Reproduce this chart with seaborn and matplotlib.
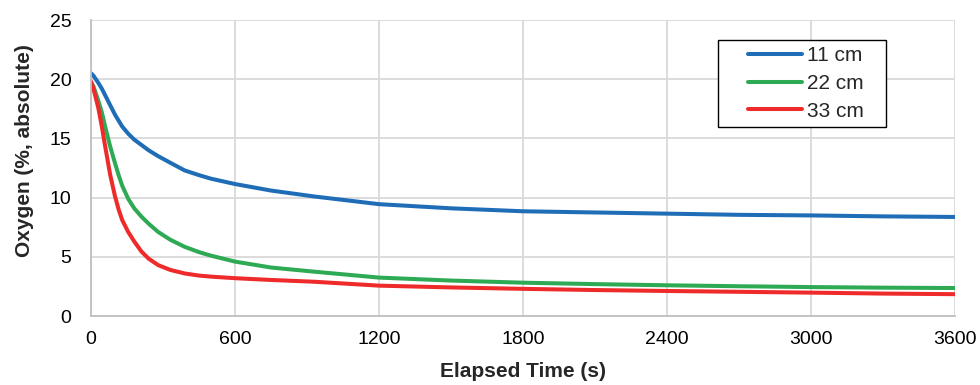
import matplotlib
matplotlib.use("Agg")
import matplotlib.pyplot as plt
from matplotlib.patches import Rectangle
import seaborn as sns
import pandas as pd

time_s = [0, 10, 20, 30, 45, 60, 80, 100, 115, 130, 155, 180, 210, 240, 280, 330,
          390, 450, 500, 600, 750, 930, 1200, 1500, 1800, 2100, 2400, 2700, 3000,
          3300, 3600]
oxy_11 = [20.5, 20.3, 20.0, 19.7, 19.2, 18.6, 17.8, 17.0, 16.5, 16.0, 15.4, 14.9,
          14.45, 14.0, 13.5, 12.95, 12.3, 11.9, 11.6, 11.15, 10.6, 10.1, 9.45, 9.1,
          8.85, 8.75, 8.65, 8.55, 8.5, 8.42, 8.37]
oxy_22 = [19.75, 19.4, 18.8, 18.2, 17.2, 15.9, 14.3, 12.9, 11.9, 11.0, 9.9, 9.1,
          8.4, 7.8, 7.1, 6.45, 5.85, 5.4, 5.1, 4.6, 4.1, 3.75, 3.25, 3.0, 2.82, 2.7,
          2.6, 2.52, 2.45, 2.4, 2.37]
oxy_33 = [19.8, 19.2, 18.4, 17.6, 16.0, 14.2, 11.9, 10.1, 9.0, 8.1, 7.1, 6.3,
          5.45, 4.85, 4.3, 3.9, 3.6, 3.42, 3.33, 3.2, 3.05, 2.9, 2.57, 2.42, 2.3,
          2.2, 2.12, 2.05, 1.98, 1.9, 1.85]
series_names = ["11 cm", "22 cm", "33 cm"]
colors = ["#1f6db6", "#2eaa55", "#ee2a2a"]
x_ticks = [0, 600, 1200, 1800, 2400, 3000, 3600]
y_ticks = [0, 5, 10, 15, 20, 25]

rows = []
for name, vals in zip(series_names, [oxy_11, oxy_22, oxy_33]):
    for t, v in zip(time_s, vals):
        rows.append({"t": t, "v": v, "s": name})
df = pd.DataFrame(rows)

sns.set_theme(style="white")
plt.rcParams["font.family"] = ["Liberation Sans", "DejaVu Sans"]

fig = plt.figure(figsize=(9.8, 3.85), dpi=100)
ax = fig.add_axes([0.0929, 0.179, 0.8816, 0.769])
sns.lineplot(data=df, x="t", y="v", hue="s", palette=colors, linewidth=2.9,
             ax=ax, legend=True)

ax.set_xlim(0, 3600)
ax.set_ylim(0, 25)
ax.set_xticks(x_ticks)
ax.set_yticks(y_ticks)
ax.tick_params(axis="both", labelsize=14, length=0, colors="black")
ax.tick_params(axis="x", pad=11)
ax.tick_params(axis="y", pad=14)
ax.grid(True, color="#d9d9d9", linewidth=1.3)
ax.set_axisbelow(True)
for s in ["top", "right"]:
    ax.spines[s].set_visible(False)
for s in ["left", "bottom"]:
    ax.spines[s].set_color("#bfbfbf")
    ax.spines[s].set_linewidth(1.3)

ax.set_xlabel("Elapsed Time (s)", fontsize=15, fontweight="bold")
ax.set_ylabel("Oxygen (%, absolute)", fontsize=15, fontweight="bold")
ax.xaxis.set_label_coords(0.5, -0.155)
ax.yaxis.set_label_coords(-0.066, 0.559)

# legend box (white fill, thin black frame)
box = Rectangle((0.7257, 0.6385), 0.1944, 0.2939, transform=ax.transAxes,
                facecolor="white", edgecolor="black", linewidth=1.0, zorder=4.5)
ax.add_patch(box)

leg = ax.legend(loc="center left", bbox_to_anchor=(0.7604, 0.786), borderaxespad=0,
                fontsize=15, frameon=False, handlelength=2.6, borderpad=0,
                labelspacing=0.42, handletextpad=0.25)
leg.set_zorder(6)
for line in leg.get_lines():
    line.set_linewidth(2.9)

fig.savefig("out.png", dpi=100)
